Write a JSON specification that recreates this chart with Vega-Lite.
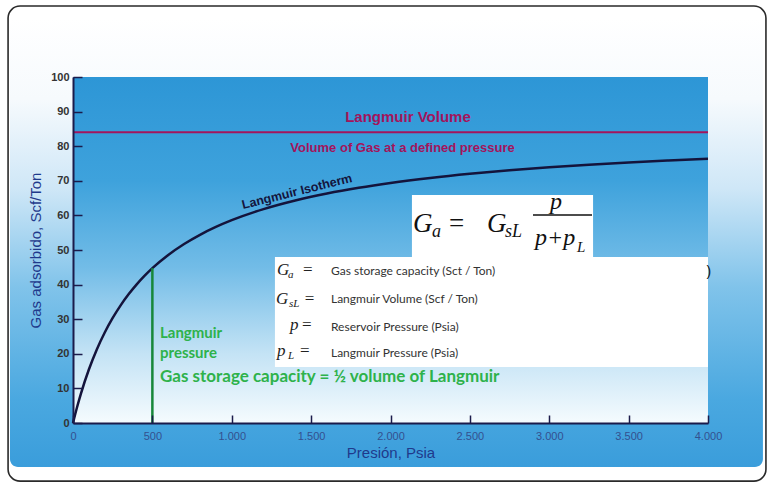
{
  "$schema": "https://vega.github.io/schema/vega-lite/v6.json",
  "width": 635,
  "height": 346,
  "autosize": "none",
  "padding": {"left": 73, "top": 77, "right": 61, "bottom": 64},
  "background": "#ffffff",
  "config": {
    "view": {"stroke": null},
    "axis": {"grid": false},
    "axisX": {
      "tickSize": -8, "tickColor": "#1b1b4b", "tickWidth": 1.5,
      "domainColor": "#1b1b4b", "domainWidth": 2,
      "labelFont": "Liberation Sans", "labelFontSize": 11, "labelColor": "#34508f",
      "labelPadding": 15, "labelFlush": false, "labelOverlap": false,
      "titleFont": "Liberation Sans", "titleFontSize": 15, "titleFontWeight": "normal",
      "titleColor": "#1f3a8c", "titlePadding": 4
    },
    "axisY": {
      "tickSize": -9, "tickColor": "#1b1b4b", "tickWidth": 1.5,
      "domainColor": "#1b1b4b", "domainWidth": 2,
      "labelFont": "Liberation Sans", "labelFontSize": 11, "labelFontWeight": "bold",
      "labelColor": "#333333", "labelPadding": 13, "labelFlush": false, "labelOverlap": false,
      "titleFont": "Liberation Sans", "titleFontSize": 15, "titleFontWeight": "normal",
      "titleColor": "#1f3a8c", "titlePadding": 7
    }
  },
  "layer": [
    {
      "data": {"values": [{}]},
      "mark": {"type": "rect", "fill": "#ffffff", "stroke": "#2a2a2a", "strokeWidth": 1.6, "cornerRadius": 12},
      "encoding": {
        "x": {"datum": -409, "type": "quantitative", "scale": {"domain": [0, 4000], "nice": false, "zero": false}, "title": "Presión, Psia", "axis": {"values": [0, 500, 1000, 1500, 2000, 2500, 3000, 3500, 4000], "labelExpr": "replace(format(datum.value, ','), ',', '.')", "zindex": 2}},
        "x2": {"datum": 4365},
        "y": {"datum": 120.5, "type": "quantitative", "scale": {"domain": [0, 100], "nice": false}, "title": "Gas adsorbido, Scf/Ton", "axis": {"values": [0, 10, 20, 30, 40, 50, 60, 70, 80, 90, 100], "zindex": 2}},
        "y2": {"datum": -16.8}
      }
    },
    {
      "data": {"values": [{}]},
      "mark": {"type": "rect", "cornerRadius": 8,
        "fill": {"gradient": "linear", "x1": 0, "y1": 0, "x2": 0, "y2": 1,
          "stops": [
            {"offset": 0, "color": "#ffffff"},
            {"offset": 0.18, "color": "#f6fafd"},
            {"offset": 0.38, "color": "#cfe7f7"},
            {"offset": 0.6, "color": "#80c3ea"},
            {"offset": 0.85, "color": "#4aa8e0"},
            {"offset": 1, "color": "#3a9ddb"}
          ]}},
      "encoding": {
        "x": {"datum": -397, "type": "quantitative", "scale": {"domain": [0, 4000], "nice": false, "zero": false}, "title": "Presión, Psia", "axis": {"values": [0, 500, 1000, 1500, 2000, 2500, 3000, 3500, 4000], "labelExpr": "replace(format(datum.value, ','), ',', '.')", "zindex": 2}},
        "x2": {"datum": 4346},
        "y": {"datum": 117.1, "type": "quantitative", "scale": {"domain": [0, 100], "nice": false}, "title": "Gas adsorbido, Scf/Ton", "axis": {"values": [0, 10, 20, 30, 40, 50, 60, 70, 80, 90, 100], "zindex": 2}},
        "y2": {"datum": -12.7}
      }
    },
    {
      "data": {"values": [{}]},
      "mark": {"type": "rect",
        "fill": {"gradient": "linear", "x1": 0, "y1": 0, "x2": 0, "y2": 1,
          "stops": [
            {"offset": 0, "color": "#2d96d6"},
            {"offset": 0.3, "color": "#3ea2dc"},
            {"offset": 0.55, "color": "#72bce7"},
            {"offset": 0.8, "color": "#c4e3f5"},
            {"offset": 1, "color": "#f5fbfe"}
          ]}},
      "encoding": {
        "x": {"datum": 0, "type": "quantitative", "scale": {"domain": [0, 4000], "nice": false, "zero": false}, "title": "Presión, Psia", "axis": {"values": [0, 500, 1000, 1500, 2000, 2500, 3000, 3500, 4000], "labelExpr": "replace(format(datum.value, ','), ',', '.')", "zindex": 2}},
        "x2": {"datum": 4000},
        "y": {"datum": 100, "type": "quantitative", "scale": {"domain": [0, 100], "nice": false}, "title": "Gas adsorbido, Scf/Ton", "axis": {"values": [0, 10, 20, 30, 40, 50, 60, 70, 80, 90, 100], "zindex": 2}},
        "y2": {"datum": 0}
      }
    },
    {
      "data": {"values": [{}]},
      "mark": {"type": "rect", "fill": "#ffffff"},
      "encoding": {
        "x": {"datum": 2135, "type": "quantitative", "scale": {"domain": [0, 4000], "nice": false, "zero": false}, "title": "Presión, Psia", "axis": {"values": [0, 500, 1000, 1500, 2000, 2500, 3000, 3500, 4000], "labelExpr": "replace(format(datum.value, ','), ',', '.')", "zindex": 2}},
        "x2": {"datum": 3276},
        "y": {"datum": 65.9, "type": "quantitative", "scale": {"domain": [0, 100], "nice": false}, "title": "Gas adsorbido, Scf/Ton", "axis": {"values": [0, 10, 20, 30, 40, 50, 60, 70, 80, 90, 100], "zindex": 2}},
        "y2": {"datum": 48.0}
      }
    },
    {
      "data": {"values": [{}]},
      "mark": {"type": "rect", "fill": "#ffffff"},
      "encoding": {
        "x": {"datum": 1272, "type": "quantitative", "scale": {"domain": [0, 4000], "nice": false, "zero": false}, "title": "Presión, Psia", "axis": {"values": [0, 500, 1000, 1500, 2000, 2500, 3000, 3500, 4000], "labelExpr": "replace(format(datum.value, ','), ',', '.')", "zindex": 2}},
        "x2": {"datum": 4000},
        "y": {"datum": 48.0, "type": "quantitative", "scale": {"domain": [0, 100], "nice": false}, "title": "Gas adsorbido, Scf/Ton", "axis": {"values": [0, 10, 20, 30, 40, 50, 60, 70, 80, 90, 100], "zindex": 2}},
        "y2": {"datum": 16.2}
      }
    },
    {
      "data": {"values": [{"v": 84}]},
      "mark": {"type": "rule", "color": "#a3145c", "strokeWidth": 2},
      "encoding": {
        "x": {"datum": 0, "type": "quantitative", "scale": {"domain": [0, 4000], "nice": false, "zero": false}, "title": "Presión, Psia", "axis": {"values": [0, 500, 1000, 1500, 2000, 2500, 3000, 3500, 4000], "labelExpr": "replace(format(datum.value, ','), ',', '.')", "zindex": 2}},
        "x2": {"datum": 4000},
        "y": {"field": "v", "type": "quantitative", "scale": {"domain": [0, 100], "nice": false}, "title": "Gas adsorbido, Scf/Ton", "axis": {"values": [0, 10, 20, 30, 40, 50, 60, 70, 80, 90, 100], "zindex": 2}}
      }
    },
    {
      "data": {"values": [
        {"p": 0, "v": 0}, {"p": 25, "v": 4.47}, {"p": 50, "v": 8.5}, {"p": 100, "v": 15.45},
        {"p": 150, "v": 21.25}, {"p": 200, "v": 26.15}, {"p": 250, "v": 30.36}, {"p": 300, "v": 34.0},
        {"p": 350, "v": 37.19}, {"p": 400, "v": 40.0}, {"p": 450, "v": 42.5}, {"p": 500, "v": 44.74},
        {"p": 600, "v": 48.57}, {"p": 700, "v": 51.74}, {"p": 800, "v": 54.4}, {"p": 900, "v": 56.67},
        {"p": 1000, "v": 58.62}, {"p": 1200, "v": 61.82}, {"p": 1400, "v": 64.32}, {"p": 1600, "v": 66.34},
        {"p": 1800, "v": 68.0}, {"p": 2000, "v": 69.39}, {"p": 2250, "v": 70.83}, {"p": 2500, "v": 72.03},
        {"p": 2750, "v": 73.05}, {"p": 3000, "v": 73.91}, {"p": 3250, "v": 74.66}, {"p": 3500, "v": 75.32},
        {"p": 3750, "v": 75.89}, {"p": 4000, "v": 76.4}
      ]},
      "mark": {"type": "line", "color": "#14143c", "strokeWidth": 2.5, "interpolate": "monotone"},
      "encoding": {
        "x": {"field": "p", "type": "quantitative", "scale": {"domain": [0, 4000], "nice": false, "zero": false}, "title": "Presión, Psia", "axis": {"values": [0, 500, 1000, 1500, 2000, 2500, 3000, 3500, 4000], "labelExpr": "replace(format(datum.value, ','), ',', '.')", "zindex": 2}},
        "y": {"field": "v", "type": "quantitative", "scale": {"domain": [0, 100], "nice": false}, "title": "Gas adsorbido, Scf/Ton", "axis": {"values": [0, 10, 20, 30, 40, 50, 60, 70, 80, 90, 100], "zindex": 2}}
      }
    },
    {
      "data": {"values": [{"p": 500, "v": 0, "v2": 44.74}]},
      "mark": {"type": "rule", "color": "#17873a", "strokeWidth": 2.5},
      "encoding": {
        "x": {"field": "p", "type": "quantitative", "scale": {"domain": [0, 4000], "nice": false, "zero": false}, "title": "Presión, Psia", "axis": {"values": [0, 500, 1000, 1500, 2000, 2500, 3000, 3500, 4000], "labelExpr": "replace(format(datum.value, ','), ',', '.')", "zindex": 2}},
        "y": {"field": "v", "type": "quantitative", "scale": {"domain": [0, 100], "nice": false}, "title": "Gas adsorbido, Scf/Ton", "axis": {"values": [0, 10, 20, 30, 40, 50, 60, 70, 80, 90, 100], "zindex": 2}},
        "y2": {"field": "v2"}
      }
    },
    {
      "data": {"values": [{}]},
      "mark": {"type": "rule", "color": "#111111", "strokeWidth": 1.5},
      "encoding": {
        "x": {"datum": 2897.6, "type": "quantitative", "scale": {"domain": [0, 4000], "nice": false, "zero": false}, "title": "Presión, Psia", "axis": {"values": [0, 500, 1000, 1500, 2000, 2500, 3000, 3500, 4000], "labelExpr": "replace(format(datum.value, ','), ',', '.')", "zindex": 2}},
        "x2": {"datum": 3269.3},
        "y": {"datum": 60.12, "type": "quantitative", "scale": {"domain": [0, 100], "nice": false}, "title": "Gas adsorbido, Scf/Ton", "axis": {"values": [0, 10, 20, 30, 40, 50, 60, 70, 80, 90, 100], "zindex": 2}}
      }
    },
    {
      "data": {"values": [
        {"t": "Langmuir Volume", "p": 2110, "v": 87.0, "s": "lv"},
        {"t": "Volume of Gas at a defined pressure", "p": 2076, "v": 78.3, "s": "vg"},
        {"t": "Langmuir Isotherm", "p": 1411, "v": 66.9, "s": "iso"},
        {"t": "Langmuir", "p": 548, "v": 26.0, "s": "gs"},
        {"t": "pressure", "p": 548, "v": 20.2, "s": "gs"},
        {"t": "Gas storage capacity = ½ volume of Langmuir", "p": 548, "v": 13.3, "s": "gb"},
        {"t": "Gas storage capacity (Sct / Ton)", "p": 1625, "v": 42.8, "s": "d"},
        {"t": "Langmuir Volume (Scf / Ton)", "p": 1625, "v": 34.7, "s": "d"},
        {"t": "Reservoir Pressure (Psia)", "p": 1625, "v": 26.6, "s": "d"},
        {"t": "Langmuir Pressure (Psia)", "p": 1625, "v": 19.1, "s": "d"},
        {"t": "G", "p": 2141.7, "v": 55.2, "s": "fG"},
        {"t": "G", "p": 2607.9, "v": 55.2, "s": "fG"},
        {"t": "=", "p": 2368.5, "v": 55.2, "s": "fE"},
        {"t": "a", "p": 2261.4, "v": 53.76, "s": "fS"},
        {"t": "sL", "p": 2721.3, "v": 53.76, "s": "fS"},
        {"t": "p", "p": 3004.7, "v": 61.85, "s": "fP"},
        {"t": "p+p", "p": 2910.2, "v": 51.45, "s": "fP"},
        {"t": "L", "p": 3175, "v": 49.42, "s": "fL"},
        {"t": "G", "p": 1285, "v": 42.8, "s": "mG"},
        {"t": "G", "p": 1279, "v": 34.4, "s": "mG"},
        {"t": "p", "p": 1367, "v": 26.9, "s": "mG"},
        {"t": "p", "p": 1285, "v": 19.4, "s": "mG"},
        {"t": "a", "p": 1354, "v": 41.9, "s": "mS"},
        {"t": "sL", "p": 1360, "v": 33.5, "s": "mS"},
        {"t": "L", "p": 1355, "v": 18.5, "s": "mS"},
        {"t": "=", "p": 1449, "v": 42.8, "s": "mE"},
        {"t": "=", "p": 1460, "v": 34.4, "s": "mE"},
        {"t": "=", "p": 1443, "v": 26.9, "s": "mE"},
        {"t": "=", "p": 1430, "v": 19.4, "s": "mE"},
        {"t": ")", "p": 3990, "v": 43.6, "s": "par"}
      ]},
      "encoding": {
        "x": {"field": "p", "type": "quantitative", "scale": {"domain": [0, 4000], "nice": false, "zero": false}, "title": "Presión, Psia", "axis": {"values": [0, 500, 1000, 1500, 2000, 2500, 3000, 3500, 4000], "labelExpr": "replace(format(datum.value, ','), ',', '.')", "zindex": 2}},
        "y": {"field": "v", "type": "quantitative", "scale": {"domain": [0, 100], "nice": false}, "title": "Gas adsorbido, Scf/Ton", "axis": {"values": [0, 10, 20, 30, 40, 50, 60, 70, 80, 90, 100], "zindex": 2}},
        "text": {"field": "t"}
      },
      "layer": [
        {"transform": [{"filter": "datum.s === 'lv'"}], "mark": {"type": "text", "font": "Liberation Sans", "fontSize": 15, "fontWeight": "bold", "color": "#a3145c", "align": "center", "baseline": "alphabetic"}},
        {"transform": [{"filter": "datum.s === 'vg'"}], "mark": {"type": "text", "font": "Liberation Sans", "fontSize": 13, "fontWeight": "bold", "color": "#a3145c", "align": "center", "baseline": "alphabetic"}},
        {"transform": [{"filter": "datum.s === 'iso'"}], "mark": {"type": "text", "font": "Liberation Sans", "fontSize": 12.5, "fontWeight": "bold", "color": "#14143c", "align": "center", "baseline": "middle", "angle": -14}},
        {"transform": [{"filter": "datum.s === 'gs'"}], "mark": {"type": "text", "font": "Lato", "fontSize": 15, "fontWeight": "bold", "color": "#2eb24b", "align": "left", "baseline": "middle"}},
        {"transform": [{"filter": "datum.s === 'gb'"}], "mark": {"type": "text", "font": "Lato", "fontSize": 17, "fontWeight": "bold", "color": "#2eb24b", "align": "left", "baseline": "middle"}},
        {"transform": [{"filter": "datum.s === 'd'"}], "mark": {"type": "text", "font": "Lato", "fontSize": 12, "color": "#333333", "align": "left", "baseline": "alphabetic"}},
        {"transform": [{"filter": "datum.s === 'fG'"}], "mark": {"type": "text", "font": "Liberation Serif", "fontSize": 27, "fontStyle": "italic", "color": "#111111", "align": "left", "baseline": "alphabetic"}},
        {"transform": [{"filter": "datum.s === 'fE'"}], "mark": {"type": "text", "font": "Liberation Serif", "fontSize": 27, "color": "#111111", "align": "left", "baseline": "alphabetic"}},
        {"transform": [{"filter": "datum.s === 'fS'"}], "mark": {"type": "text", "font": "Liberation Serif", "fontSize": 18, "fontStyle": "italic", "color": "#111111", "align": "left", "baseline": "alphabetic"}},
        {"transform": [{"filter": "datum.s === 'fP'"}], "mark": {"type": "text", "font": "Liberation Serif", "fontSize": 24, "fontStyle": "italic", "color": "#111111", "align": "left", "baseline": "alphabetic"}},
        {"transform": [{"filter": "datum.s === 'fL'"}], "mark": {"type": "text", "font": "Liberation Serif", "fontSize": 15, "fontStyle": "italic", "color": "#111111", "align": "left", "baseline": "alphabetic"}},
        {"transform": [{"filter": "datum.s === 'mG'"}], "mark": {"type": "text", "font": "Liberation Serif", "fontSize": 17, "fontStyle": "italic", "color": "#222222", "align": "left", "baseline": "alphabetic"}},
        {"transform": [{"filter": "datum.s === 'mS'"}], "mark": {"type": "text", "font": "Liberation Serif", "fontSize": 11, "fontStyle": "italic", "color": "#222222", "align": "left", "baseline": "alphabetic"}},
        {"transform": [{"filter": "datum.s === 'mE'"}], "mark": {"type": "text", "font": "Liberation Serif", "fontSize": 17, "color": "#222222", "align": "left", "baseline": "alphabetic"}},
        {"transform": [{"filter": "datum.s === 'par'"}], "mark": {"type": "text", "font": "Liberation Sans", "fontSize": 14, "color": "#111111", "align": "left", "baseline": "middle"}}
      ]
    }
  ]
}
